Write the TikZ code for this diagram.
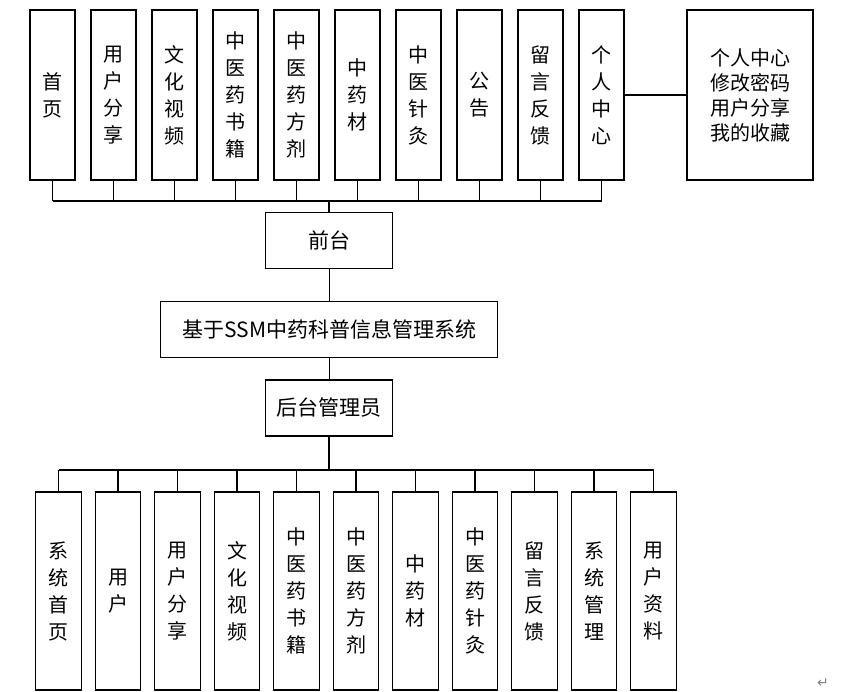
\documentclass[tikz,border=0pt]{standalone}
\usepackage{fontspec}
\newfontfamily\cjk{Noto Sans CJK SC}
\newfontfamily\symfont{DejaVu Sans}
\usetikzlibrary{positioning}
\tikzset{
  vbox/.style={draw,line width=1.2pt,minimum width=45pt,minimum height=170pt,
               inner sep=0pt,outer sep=0pt,align=center,
               font=\cjk\fontsize{20}{27}\selectfont},
  vboxlow/.style={vbox,minimum width=45.5pt,minimum height=198pt},
  hbox/.style={draw,line width=1.2pt,minimum width=127pt,minimum height=56pt,
               inner sep=0pt,outer sep=0pt,align=center,
               font=\cjk\fontsize{21}{25}\selectfont},
  link/.style={line width=1.2pt},
  bus/.style={line width=1.8pt},
}

\begin{document}
\begin{tikzpicture}[x=1pt,y=1pt,node distance=16pt]
  \useasboundingbox (0,0) rectangle (849,-692);
  % front-end modules
  \node[vbox] (home) at (52.5,-95) {首\\页};
  \node[vbox,right=of home] (share) {用\\户\\分\\享};
  \node[vbox,right=of share] (video) {文\\化\\视\\频};
  \node[vbox,right=of video] (books) {中\\医\\药\\书\\籍};
  \node[vbox,right=of books] (recipe) {中\\医\\药\\方\\剂};
  \node[vbox,right=of recipe] (herb) {中\\药\\材};
  \node[vbox,right=of herb] (acu) {中\\医\\针\\灸};
  \node[vbox,right=of acu] (notice) {公\\告};
  \node[vbox,right=of notice] (msg) {留\\言\\反\\馈};
  \node[vbox,right=of msg] (center) {个\\人\\中\\心};
  \node[hbox,right=63pt of center,minimum width=126pt,minimum height=170pt,
        font=\cjk\fontsize{20}{25}\selectfont] (centerlist)
        {个人中心\\修改密码\\用户分享\\我的收藏};
  % middle column
  \node[hbox] (front) at (329.2,-240.5) {前台};
  \node[hbox,minimum width=337pt] (sys) at (329.2,-329.7) {基于SSM中药科普信息管理系统};
  \node[hbox] (admin) at (329.2,-408) {后台管理员};
  % back-end modules
  \node[vboxlow] (ahome) at (58.5,-591) {系\\统\\首\\页};
  \node[vboxlow,right=14pt of ahome] (auser) {用\\户};
  \node[vboxlow,right=14pt of auser] (ashare) {用\\户\\分\\享};
  \node[vboxlow,right=14pt of ashare] (avideo) {文\\化\\视\\频};
  \node[vboxlow,right=14pt of avideo] (abooks) {中\\医\\药\\书\\籍};
  \node[vboxlow,right=14pt of abooks] (arecipe) {中\\医\\药\\方\\剂};
  \node[vboxlow,right=14pt of arecipe] (aherb) {中\\药\\材};
  \node[vboxlow,right=14pt of aherb] (aacu) {中\\医\\药\\针\\灸};
  \node[vboxlow,right=14pt of aacu] (amsg) {留\\言\\反\\馈};
  \node[vboxlow,right=14pt of amsg] (asys) {系\\统\\管\\理};
  \node[vboxlow,right=14pt of asys] (ainfo) {用\\户\\资\\料};
  % bus lines
  \coordinate (topbus) at (0,-201);
  \coordinate (lowbus) at (0,-470);
  \foreach \n in {home,share,video,books,recipe,herb,acu,notice,msg,center}
    \draw[link] (\n.south) -- (\n.south |- topbus);
  \draw[bus] (home.south |- topbus) -- (center.south |- topbus);
  \draw[bus] (front.north) -- (front.north |- topbus);
  \draw[link] (center.east) -- (centerlist.west);
  \draw[link] (front.south) -- (sys.north);
  \draw[link] (sys.south) -- (admin.north);
  \draw[bus] (admin.south) -- (admin.south |- lowbus);
  \draw[bus] (ahome.north |- lowbus) -- (ainfo.north |- lowbus);
  \foreach \n in {ahome,auser,ashare,avideo,abooks,arecipe,aherb,aacu,amsg,asys,ainfo}
    \draw[link] (\n.north |- lowbus) -- (\n.north);
  % paragraph mark
  \node[font=\symfont\fontsize{14}{14}\selectfont,text=gray] (mark) at (823,-683) {↵};
\end{tikzpicture}
\end{document}
